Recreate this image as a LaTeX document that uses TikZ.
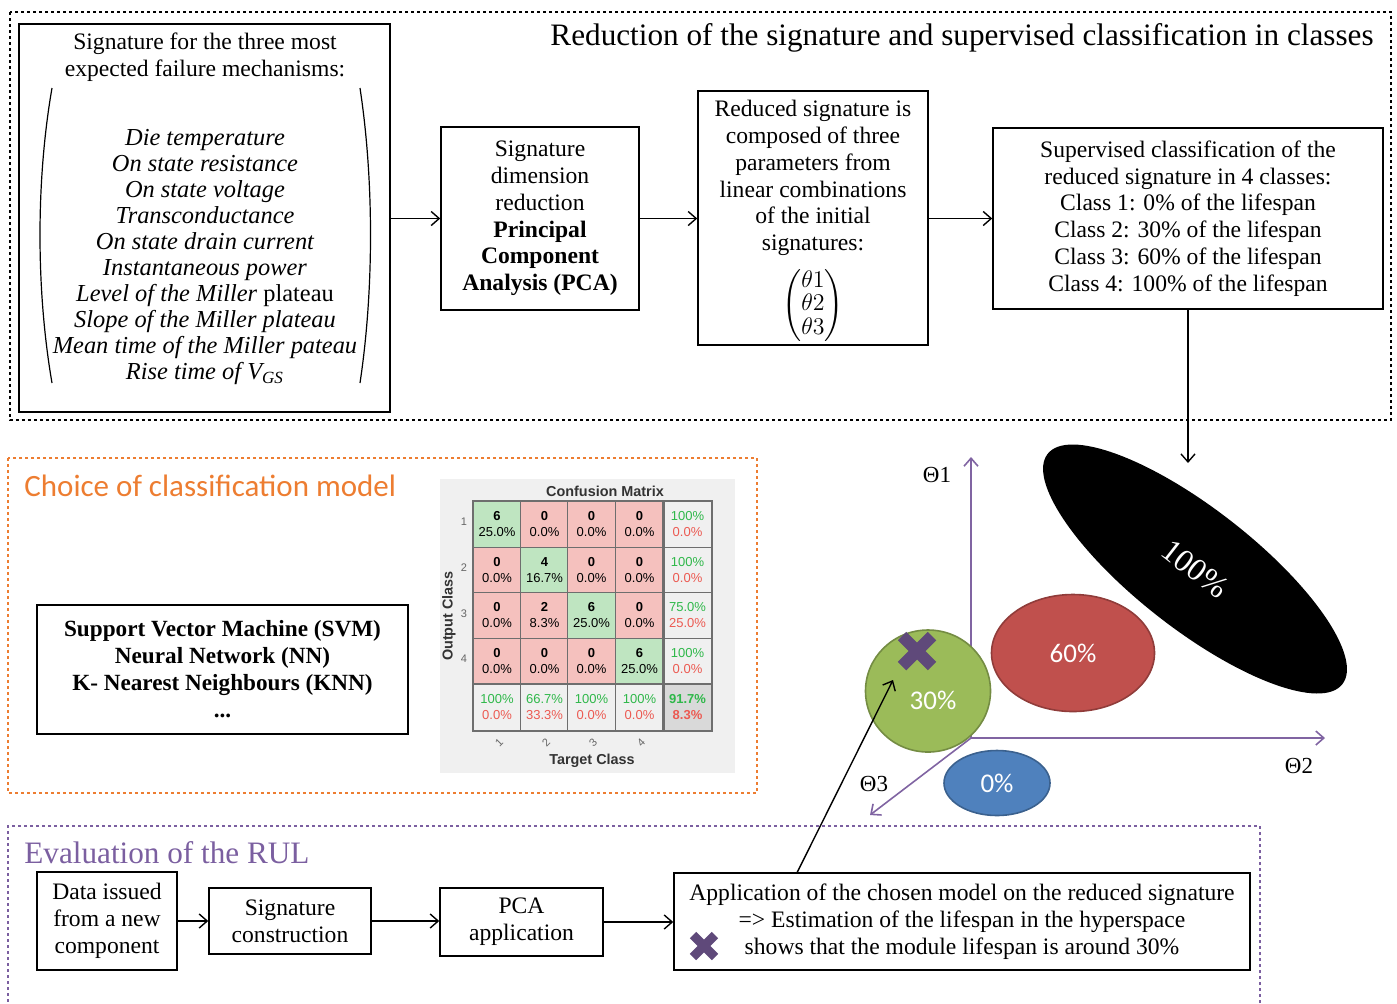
\documentclass[tikz,border=0pt]{standalone}
\usepackage{amsmath}
\usepackage{fontspec}
\setmainfont{Liberation Serif}
\newfontfamily\carlito{Carlito}
\newfontfamily\arial{Liberation Sans}
\usetikzlibrary{arrows.meta,shapes.geometric}

\definecolor{choiceorange}{HTML}{ED7D31}
\definecolor{rulpurple}{HTML}{7B5FA0}
\definecolor{axispurple}{HTML}{8064A2}
\definecolor{crosspurple}{HTML}{5F497A}
\definecolor{cmbg}{HTML}{F0F0F0}
\definecolor{cmgreen}{HTML}{BFE5C1}
\definecolor{cmred}{HTML}{F5C1BE}
\definecolor{cmline}{HTML}{6E6E6E}
\definecolor{cmgtxt}{HTML}{2FB84A}
\definecolor{cmrtxt}{HTML}{EC5A52}
\definecolor{class0}{HTML}{4F81BD}
\definecolor{class30}{HTML}{9BBB59}
\definecolor{class60}{HTML}{C0504D}

\newcommand{\gtx}[1]{\textcolor{cmgtxt}{#1}}
\newcommand{\rtx}[1]{\textcolor{cmrtxt}{#1}}

\begin{document}
\begin{tikzpicture}[x=0.5pt,y=-0.5pt,
    >={Straight Barb[length=4pt,width=7pt]},
    every node/.style={inner sep=0pt},
    txt/.style={align=center,font=\fontsize{11.8}{13.4}\selectfont},
    box/.style={draw,line width=0.75pt,txt},
    link/.style={->,line width=0.7pt},
    blackdots/.style={line width=1.3pt,dash pattern=on 1.3pt off 1.7pt},
    orangedots/.style={blackdots,draw=choiceorange},
    purpledots/.style={blackdots,draw=rulpurple},
    cell/.style={draw=cmline,line width=0.4pt,minimum width=23.75pt,minimum height=23pt,
        align=center,font=\arial\fontsize{6.5}{8}\selectfont},
    gc/.style={cell,fill=cmgreen},
    rc/.style={cell,fill=cmred},
    wc/.style={cell,fill=cmbg},
    tc/.style={cell,fill=black!15,font=\arial\bfseries\fontsize{6.5}{8}\selectfont},
    cmlabel/.style={font=\arial\bfseries\fontsize{7.2}{8}\selectfont,text=black!80},
    cmtick/.style={font=\arial\fontsize{5.5}{6}\selectfont,text=black!60},
    axis/.style={->,draw=axispurple,line width=0.8pt},
    axlabel/.style={font=\fontsize{11.5}{13}\selectfont},
    crossmark/.style={draw=crosspurple,line cap=butt},
    pct/.style={text=white,font=\carlito\fontsize{13.5}{15}\selectfont},
]
\useasboundingbox (0,0) rectangle (1397,1003);

% reduction and classification
\draw[blackdots] (10,12) rectangle (1391,420);
\node[anchor=east,font=\fontsize{15.6}{17}\selectfont] (toptitle) at (1374,38)
    {Reduction of the signature and supervised classification in classes};

\node[box,minimum width=185.5pt,minimum height=194pt] (sig) at (204.5,218) {};
\node[txt] (sighead) at (205,57.5) {Signature for the three most\\expected failure mechanisms:};
\node[align=center,font=\itshape\fontsize{12.2}{13}\selectfont] (siglist) at (205,257)
    {Die temperature\\On state resistance\\On state voltage\\Transconductance\\
     On state drain current\\Instantaneous power\\Level of the Miller \textup{plateau}\\
     Slope of the Miller plateau\\Mean time of the Miller pateau\\Rise time of V\textsubscript{GS}};
\draw[line width=0.6pt] (52,88) .. controls (36,180) and (36,290) .. (52,383);
\draw[line width=0.6pt] (360,88) .. controls (374,180) and (374,290) .. (360,383);

\node[box,minimum width=99pt,minimum height=91.5pt] (pca) at (540,218.5)
    {Signature\\dimension\\reduction\\\textbf{Principal}\\\textbf{Component}\\\textbf{Analysis (PCA)}};
\node[box,minimum width=115pt,minimum height=127pt] (red) at (813,218) {};
\node[txt] (redtext) at (813,178)
    {Reduced signature is\\composed of three\\parameters from\\linear combinations\\of the initial\\signatures:};
\node[font=\fontsize{11.8}{13.4}\selectfont] (theta) at (813,306)
    {\def\arraystretch{0.88}$\begin{pmatrix}\theta 1\\\theta 2\\\theta 3\end{pmatrix}$};
\node[box,minimum width=195pt,minimum height=90.5pt] (sup) at (1188,218.5)
    {Supervised classification of the\\reduced signature in 4 classes:\\Class 1: 0\% of the lifespan\\
     Class 2: 30\% of the lifespan\\Class 3: 60\% of the lifespan\\Class 4: 100\% of the lifespan};
\coordinate (down) at (1188,463);

\draw[link] (sig.east |- pca.west) -- (pca.west);
\draw[link] (pca.east) -- (red.west |- pca.east);
\draw[link] (red.east |- sup.west) -- (sup.west);
\draw[link] (sup.south) -- (down);

% choice of classification model
\draw[orangedots] (8,458) rectangle (757,793);
\node[anchor=west,text=choiceorange,font=\carlito\fontsize{15.5}{17}\selectfont] (choice) at (24,486)
    {Choice of classification model};
\node[box,minimum width=185.5pt,minimum height=64.5pt,font=\bfseries\fontsize{11.6}{13.5}\selectfont] (models) at (222.5,669.5)
    {Support Vector Machine (SVM)\\Neural Network (NN)\\K- Nearest Neighbours (KNN)\\...};

\fill[cmbg] (440,479) rectangle (735,773);
\node[cmlabel] (cmtitle) at (605,491) {Confusion Matrix};
\node[gc] (c11) at (497,524) {\textbf{6}\\25.0\%};
\node[rc] (c12) at (544.5,524) {\textbf{0}\\0.0\%};
\node[rc] (c13) at (591.5,524) {\textbf{0}\\0.0\%};
\node[rc] (c14) at (639.5,524) {\textbf{0}\\0.0\%};
\node[wc] (c15) at (687.5,524) {\gtx{100\%}\\\rtx{0.0\%}};
\node[rc] (c21) at (497,570) {\textbf{0}\\0.0\%};
\node[gc] (c22) at (544.5,570) {\textbf{4}\\16.7\%};
\node[rc] (c23) at (591.5,570) {\textbf{0}\\0.0\%};
\node[rc] (c24) at (639.5,570) {\textbf{0}\\0.0\%};
\node[wc] (c25) at (687.5,570) {\gtx{100\%}\\\rtx{0.0\%}};
\node[rc] (c31) at (497,615.5) {\textbf{0}\\0.0\%};
\node[rc] (c32) at (544.5,615.5) {\textbf{2}\\8.3\%};
\node[gc] (c33) at (591.5,615.5) {\textbf{6}\\25.0\%};
\node[rc] (c34) at (639.5,615.5) {\textbf{0}\\0.0\%};
\node[wc] (c35) at (687.5,615.5) {\gtx{75.0\%}\\\rtx{25.0\%}};
\node[rc] (c41) at (497,661) {\textbf{0}\\0.0\%};
\node[rc] (c42) at (544.5,661) {\textbf{0}\\0.0\%};
\node[rc] (c43) at (591.5,661) {\textbf{0}\\0.0\%};
\node[gc] (c44) at (639.5,661) {\textbf{6}\\25.0\%};
\node[wc] (c45) at (687.5,661) {\gtx{100\%}\\\rtx{0.0\%}};
\node[wc] (c51) at (497,707.5) {\gtx{100\%}\\\rtx{0.0\%}};
\node[wc] (c52) at (544.5,707.5) {\gtx{66.7\%}\\\rtx{33.3\%}};
\node[wc] (c53) at (591.5,707.5) {\gtx{100\%}\\\rtx{0.0\%}};
\node[wc] (c54) at (639.5,707.5) {\gtx{100\%}\\\rtx{0.0\%}};
\node[tc] (c55) at (687.5,707.5) {\gtx{91.7\%}\\\rtx{8.3\%}};
\draw[cmline,line width=1pt] (c11.north west) rectangle (c55.south east);
\draw[cmline,line width=1.2pt] (c15.north west) -- (c55.south west);
\draw[cmline,line width=1.2pt] (c51.north west) -- (c55.north east);
\node[cmtick] (r1) at (464,522) {1};
\node[cmtick] (r2) at (464,568) {2};
\node[cmtick] (r3) at (464,614) {3};
\node[cmtick] (r4) at (464,659) {4};
\node[cmtick,rotate=45] (t1) at (499,743) {1};
\node[cmtick,rotate=45] (t2) at (546,743) {2};
\node[cmtick,rotate=45] (t3) at (593,743) {3};
\node[cmtick,rotate=45] (t4) at (641,743) {4};
\node[cmlabel,rotate=90] (outcls) at (449,616) {Output Class};
\node[cmlabel] (tgtcls) at (592,761) {Target Class};

% hyperspace
\coordinate (origin) at (971,738);
\coordinate (th1) at (971,457);
\coordinate (th2) at (1325,738);
\coordinate (th3) at (870,815);
\draw[axis] (origin) -- (th1);
\draw[axis] (origin) -- (th2);
\draw[axis] (origin) -- (th3);
\node[axlabel] (lab1) at (937,475) {Θ1};
\node[axlabel] (lab2) at (1299,766) {Θ2};
\node[axlabel] (lab3) at (874,784) {Θ3};

\node[ellipse,fill=black,minimum width=187pt,minimum height=60pt,rotate=-38,
    text=white,font=\fontsize{16}{18}\selectfont] (c100) at (1195,569) {100\%};
\node[ellipse,draw=class60!75!black,line width=0.8pt,fill=class60,minimum width=81.5pt,
    minimum height=58.5pt,pct] (c60) at (1073,653) {60\%};
\node[ellipse,draw=class0!75!black,line width=0.8pt,fill=class0,minimum width=53pt,
    minimum height=32.5pt,pct] (c0) at (997,783) {0\%};
\node[ellipse,draw=class30!75!black,line width=0.8pt,fill=class30,minimum width=62.5pt,
    minimum height=61pt] (c30) at (928,691) {};
\node[pct] (t30) at (933,700) {30\%};
\draw[crossmark,line width=6pt] (902,636) -- (932,666) (902,666) -- (932,636);

% evaluation of the RUL
\draw[purpledots] (1260,1003) -- (1260,826) -- (8,826) -- (8,1003);
\node[anchor=west,text=rulpurple,font=\fontsize{15.6}{17}\selectfont] (rul) at (24,853)
    {Evaluation of the RUL};
\node[box,minimum width=70pt,minimum height=49pt] (data) at (107,921)
    {Data issued\\from a new\\component};
\node[box,minimum width=81pt,minimum height=33pt] (sigc) at (290,921)
    {Signature\\construction};
\node[box,minimum width=81.5pt,minimum height=34pt] (pcaapp) at (521.5,922)
    {PCA\\application};
\node[box,minimum width=288pt,minimum height=48.5pt] (appl) at (962,921.5)
    {Application of the chosen model on the reduced signature\\
     => Estimation of the lifespan in the hyperspace\\
     shows that the module lifespan is around 30\%};
\draw[crossmark,line width=4.5pt] (693,935) -- (715,957) (693,957) -- (715,935);

\draw[link] (data.east) -- (sigc.west);
\draw[link] (sigc.east) -- (pcaapp.west |- sigc.east);
\draw[link] (pcaapp.east) -- (appl.west |- pcaapp.east);
\coordinate (hit) at (893,680);
\draw[link] ([xshift=62pt]appl.north west) -- (hit);
\end{tikzpicture}
\end{document}
